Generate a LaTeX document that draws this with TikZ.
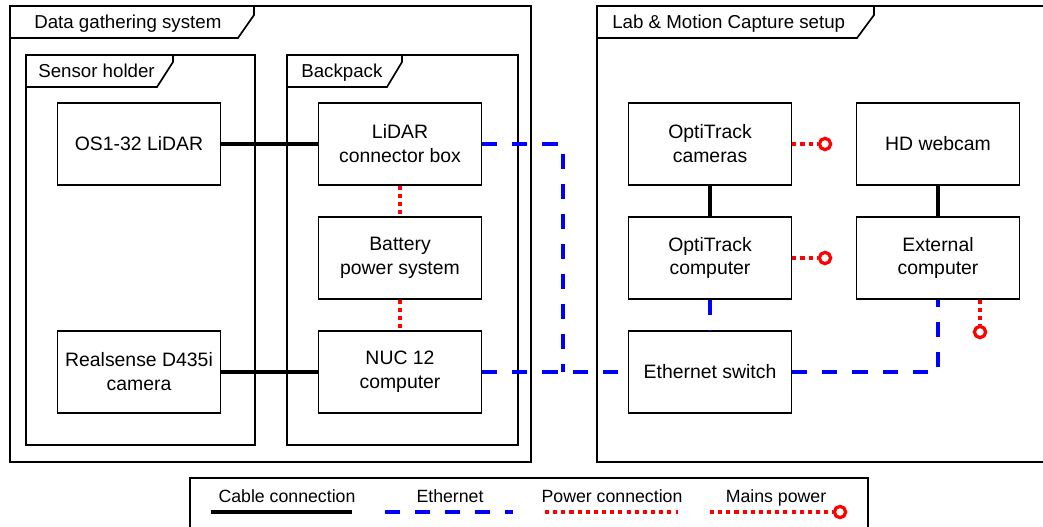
\documentclass[tikz,border=0pt]{standalone}
\usepackage{fontspec}
\setmainfont{Liberation Sans}
\begin{document}
\begin{tikzpicture}[x=0.025cm,y=-0.025cm,
    frame/.style={draw,line width=1.2pt},
    box/.style={draw,line width=1.1pt,minimum width=4.075cm,minimum height=2.05cm,
        align=center,inner sep=0pt,font=\fontsize{13.8}{17}\selectfont},
    title/.style={anchor=base west,inner sep=0pt,font=\fontsize{13.3}{16}\selectfont},
    legtext/.style={anchor=base,inner sep=0pt,font=\fontsize{12.6}{15}\selectfont},
    cable/.style={line width=3pt,black},
    ether/.style={line width=3pt,blue,dash pattern=on 10.7pt off 10.7pt},
    power/.style={line width=3pt,red,dash pattern=on 2.9pt off 2.9pt},
    mainsend/.style={circle,draw=red,line width=2.3pt,fill=white,inner sep=0pt,minimum size=8pt}]
    \useasboundingbox (0,0) rectangle (1043,526);
    \clip (0,0) rectangle (1043,526);

    % frames
    \draw[frame] (10,6) rectangle (531,462);
    \draw[frame] (10,38) -- (238,38) -- (254,15) -- (254,6);
    \node[title] (tdata) at (34,28) {Data gathering system};

    \draw[frame] (26,55) rectangle (255,445);
    \draw[frame] (26,87) -- (157,87) -- (173,62) -- (173,55);
    \node[title] (tsensor) at (38,77) {Sensor holder};

    \draw[frame] (287,55) rectangle (518,445);
    \draw[frame] (287,87) -- (387,87) -- (402,62) -- (402,55);
    \node[title] (tpack) at (301,77) {Backpack};

    \draw[frame] (597,6) rectangle (1060,462);
    \draw[frame] (597,38) -- (857,38) -- (874,15) -- (874,6);
    \node[title] (tlab) at (612,28) {Lab \& Motion Capture setup};

    % blocks
    \node[box] (lidar) at (139,144) {OS1-32 LiDAR};
    \node[box] (realsense) at (139,372) {Realsense D435i\\camera};
    \node[box] (lidarbox) at (400,144) {LiDAR\\connector box};
    \node[box] (battery) at (400,258) {Battery\\power system};
    \node[box] (nuc) at (400,372) {NUC 12\\computer};
    \node[box] (otcam) at (710,144) {OptiTrack\\cameras};
    \node[box] (otpc) at (710,258) {OptiTrack\\computer};
    \node[box] (switch) at (710,372) {Ethernet switch};
    \node[box] (webcam) at (938,144) {HD webcam};
    \node[box] (extpc) at (938,258) {External\\computer};

    \coordinate (ethjoin) at (563,372);
    \node[mainsend] (mainsA) at (825,144) {};
    \node[mainsend] (mainsB) at (825,258) {};
    \node[mainsend] (mainsC) at (980,332) {};

    % connections
    \draw[cable] (lidar) -- (lidarbox);
    \draw[cable] (realsense) -- (nuc);
    \draw[cable] (otcam) -- (otpc);
    \draw[cable] (webcam) -- (extpc);

    \draw[power] (lidarbox) -- (battery);
    \draw[power] (battery) -- (nuc);

    \draw[ether] (lidarbox.east) -| (ethjoin);
    \draw[ether] (nuc.east) -- (switch.west);
    \draw[ether] (otpc) -- (switch);
    \draw[ether] (switch.east) -| (extpc.south);

    \draw[power] (otcam.east) -- (mainsA);
    \draw[power] (otpc.east) -- (mainsB);
    \draw[power] (mainsC |- extpc.south) -- (mainsC);

    % legend
    \draw[frame] (190,478) rectangle (868,540);
    \coordinate (cabA) at (211,512); \coordinate (cabB) at (352,512);
    \coordinate (ethA) at (385,512); \coordinate (ethB) at (513,512);
    \coordinate (powA) at (545,512); \coordinate (powB) at (678,512);
    \coordinate (mnsA) at (710,512);
    \node[mainsend] (mnsB) at (840,512) {};
    \draw[cable] (cabA) -- (cabB);
    \draw[ether] (ethA) -- (ethB);
    \draw[power] (powA) -- (powB);
    \draw[power] (mnsA) -- (mnsB);
    \node[legtext] (lcab) at (287,502) {Cable connection};
    \node[legtext] (leth) at (450,502) {Ethernet};
    \node[legtext] (lpow) at (612,502) {Power connection};
    \node[legtext] (lmns) at (776,502) {Mains power};
\end{tikzpicture}
\end{document}
